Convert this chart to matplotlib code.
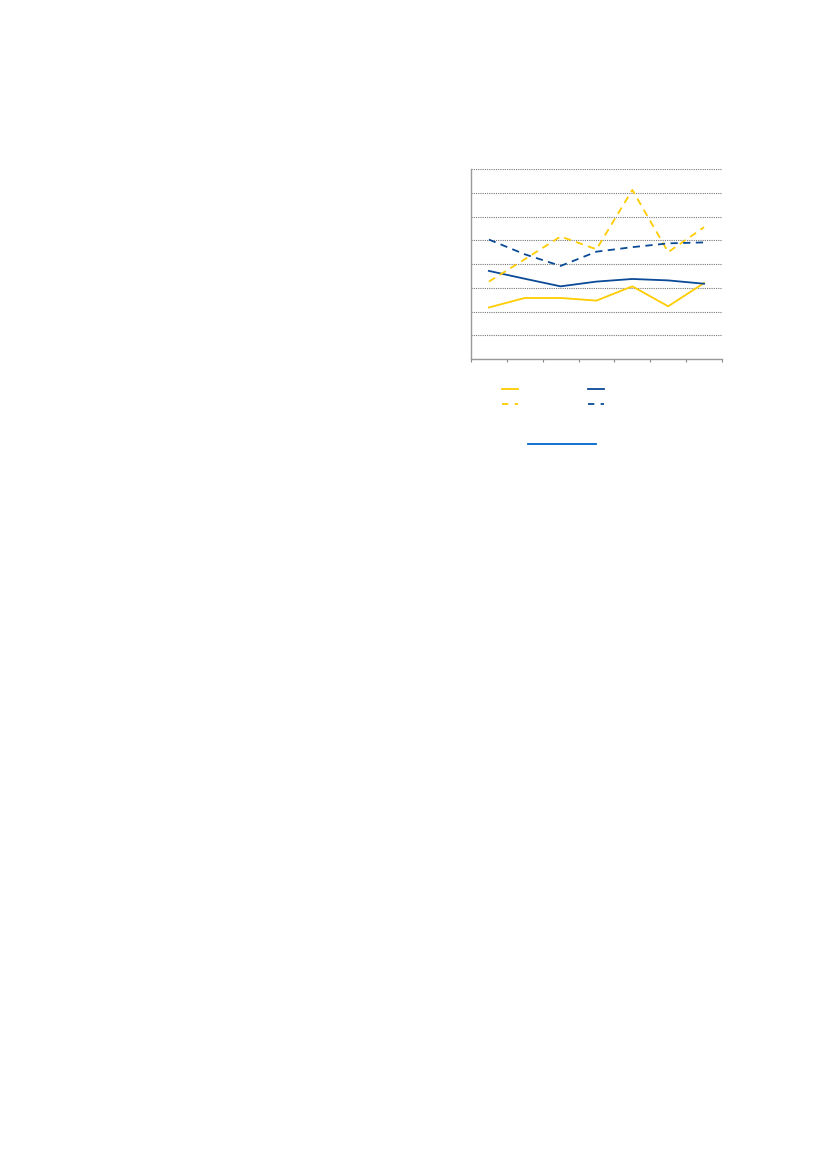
import matplotlib
matplotlib.use("Agg")
import matplotlib.pyplot as plt
from matplotlib.lines import Line2D

# seven periods, values in grid units (no labels are shown in the reference)
periods = [1, 2, 3, 4, 5, 6, 7]
yellow_solid = [2.17, 2.57, 2.57, 2.46, 3.06, 2.22, 3.20]
blue_solid = [3.71, 3.38, 3.06, 3.26, 3.37, 3.31, 3.17]
yellow_dashed = [3.26, 4.20, 5.16, 4.62, 7.12, 4.50, 5.55]
blue_dashed = [5.03, 4.41, 3.92, 4.52, 4.71, 4.87, 4.91]

yellow = "#FFCC00"
blue = "#0A4A96"

fig = plt.figure(figsize=(8.27, 11.69), dpi=100)
ax = fig.add_axes([0.5695, 0.6929, 0.3035, 0.1625])

ax.plot(periods, yellow_solid, color=yellow, lw=1.3)
ax.plot(periods, blue_solid, color=blue, lw=1.3)
ax.plot(periods, yellow_dashed, color=yellow, lw=1.3, dashes=(4, 3))
ax.plot(periods, blue_dashed, color=blue, lw=1.3, dashes=(4, 3))

ax.set_xlim(0.5, 7.5)
ax.set_ylim(0, 8)
ax.set_yticks(range(0, 9))
ax.set_xticks([p - 0.5 for p in periods] + [7.5])
ax.set_xticklabels([])
ax.set_yticklabels([])
ax.tick_params(axis="y", length=0)
ax.tick_params(axis="x", direction="out", length=2.5, color="#888888")
ax.grid(axis="y", color="#777777", lw=0.8, linestyle=(0, (1, 1)))
ax.set_axisbelow(True)
for side in ["top", "right"]:
    ax.spines[side].set_visible(False)
for side in ["left", "bottom"]:
    ax.spines[side].set_color("#999999")
    ax.spines[side].set_linewidth(1.0)

handles = [
    Line2D([], [], color=yellow, lw=1.3),
    Line2D([], [], color=yellow, lw=1.3, dashes=(3.5, 3.5)),
    Line2D([], [], color=blue, lw=1.3),
    Line2D([], [], color=blue, lw=1.3, dashes=(3.5, 3.5)),
]
fig.legend(handles, ["", "", "", ""], ncol=2, frameon=False,
           loc="upper left", bbox_to_anchor=(0.6065, 0.6726),
           handlelength=1.15, handletextpad=0.0, columnspacing=5.1,
           labelspacing=0.05, borderaxespad=0, borderpad=0)

# underline (link) below the chart
fig.add_artist(Line2D([528 / 827, 596 / 827], [1 - 444 / 1169] * 2,
                      color="#0066CC", lw=1.3))

fig.savefig("out.png", dpi=100)
